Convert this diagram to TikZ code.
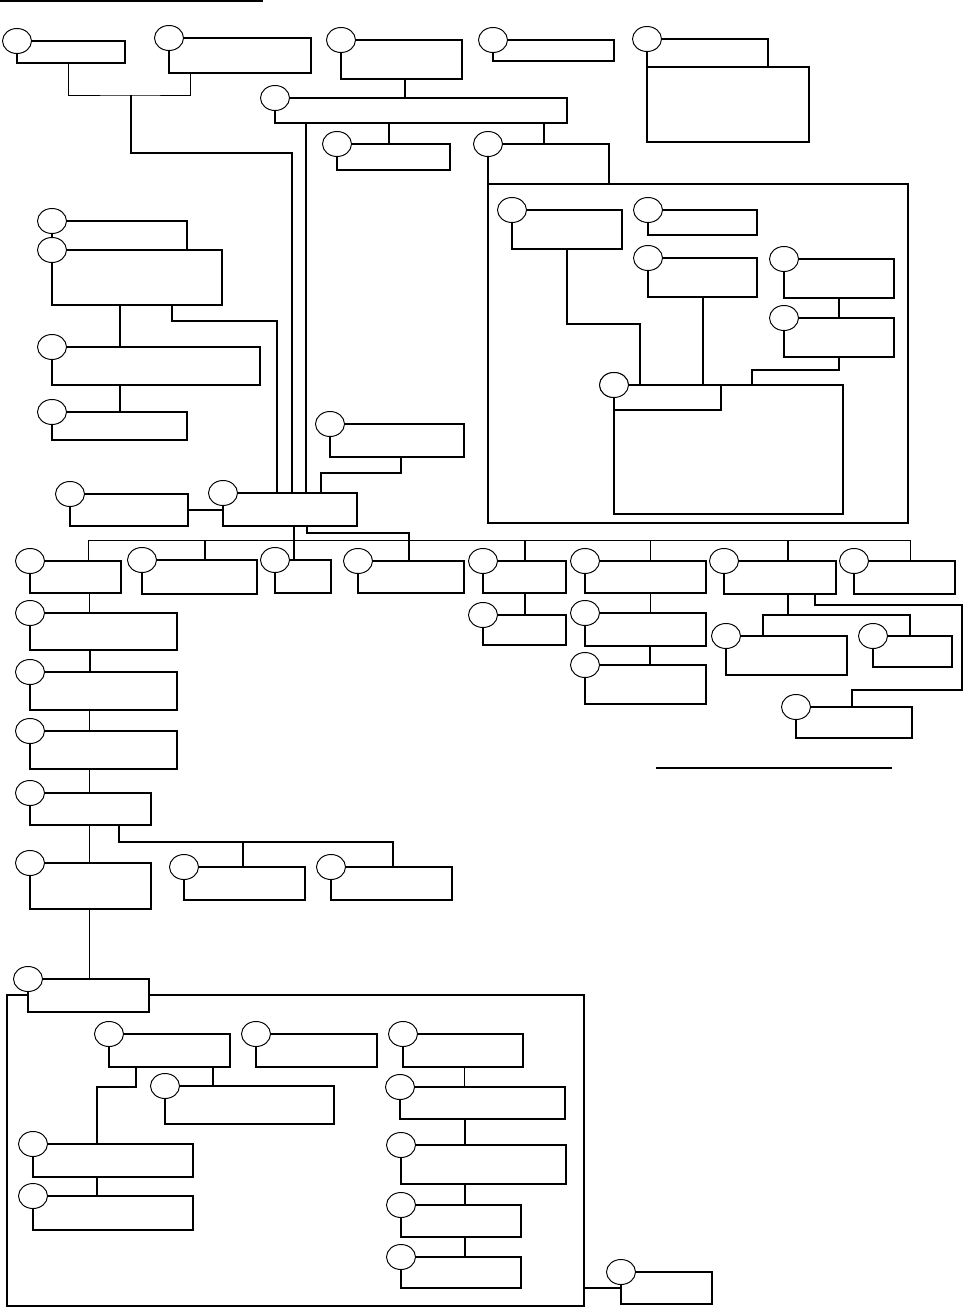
\documentclass[tikz,border=0pt]{standalone}
\usetikzlibrary{shapes.geometric}
\newcommand{\boxunit}[5]{\node[box, minimum width=#4*0.02cm, minimum height=#5*0.02cm] (#1) at (#2,#3) {};
  \node[oval] (#1o) at (#1.north west) {};}
\newcommand{\plainbox}[5]{\node[box, minimum width=#4*0.02cm, minimum height=#5*0.02cm] (#1) at (#2,#3) {};}

\begin{document}
\begin{tikzpicture}[x=0.02cm,y=-0.02cm]
\tikzstyle{box}=[draw, rectangle, fill=white, anchor=north west, inner sep=0pt, outer sep=0pt, line width=0.68pt]
\tikzstyle{frame}=[draw, rectangle, anchor=north west, inner sep=0pt, outer sep=0pt, line width=0.8pt]
\tikzstyle{oval}=[draw, ellipse, fill=white, minimum width=0.58cm, minimum height=0.5cm, inner sep=0pt, line width=0.55pt]
\tikzstyle{link}=[line width=0.62pt]
\tikzstyle{thinlink}=[line width=0.4pt]
\useasboundingbox (0,0) rectangle (964,1307);

\draw[line width=1.1pt] (0,1) -- (263,1);
\draw[line width=1.1pt] (656,768) -- (892,768);

\node[frame, minimum width=420*0.02cm, minimum height=339*0.02cm] (grpR) at (488,184) {};
\node[frame, minimum width=577*0.02cm, minimum height=311*0.02cm] (grpB) at (7,995) {};

\boxunit{A1}{17}{41}{108}{22}
\boxunit{A2}{169}{38}{142}{35}
\boxunit{A3}{341}{40}{121}{39}
\boxunit{B}{275}{98}{292}{25}
\boxunit{C}{337}{144}{113}{26}
\boxunit{D}{488}{144}{121}{40}
\boxunit{E1}{493}{40}{121}{21}
\plainbox{E2body}{647}{67}{162}{75}
\boxunit{E2}{647}{39}{121}{28}

\boxunit{F1}{512}{210}{110}{39}
\boxunit{F2}{648}{210}{109}{25}
\boxunit{F3}{648}{258}{109}{39}
\boxunit{F4}{784}{259}{110}{39}
\boxunit{F5}{784}{318}{110}{39}
\boxunit{H}{614}{385}{229}{129}
\plainbox{Hhead}{614}{385}{107}{25}
\node[oval] at (H.north west) {};

\boxunit{G1}{52}{221}{135}{29}
\boxunit{G2}{52}{250}{170}{55}
\boxunit{G3}{52}{347}{208}{38}
\boxunit{G4}{52}{412}{135}{28}
\boxunit{J}{330}{424}{134}{33}
\boxunit{K}{70}{494}{118}{32}
\boxunit{Hub}{223}{493}{134}{33}

\boxunit{R1}{30}{561}{91}{32}
\boxunit{R2}{142}{560}{115}{34}
\boxunit{R3}{275}{560}{56}{33}
\boxunit{R4}{358}{561}{106}{32}
\boxunit{R5}{483}{561}{83}{32}
\boxunit{R5b}{483}{615}{83}{30}
\boxunit{R6}{585}{561}{121}{32}
\boxunit{R6b}{585}{613}{121}{33}
\boxunit{R6c}{585}{665}{121}{39}
\boxunit{R7}{724}{561}{112}{33}
\boxunit{R7a}{726}{636}{121}{39}
\boxunit{R7b}{873}{636}{79}{31}
\boxunit{R7c}{796}{707}{116}{31}
\boxunit{R8}{854}{561}{101}{33}

\boxunit{L1}{30}{613}{147}{37}
\boxunit{L2}{30}{672}{147}{38}
\boxunit{L3}{30}{731}{147}{38}
\boxunit{L4}{30}{793}{121}{32}
\boxunit{L5}{30}{863}{121}{46}
\boxunit{M1}{184}{867}{121}{33}
\boxunit{M2}{331}{867}{121}{33}

\boxunit{N}{28}{979}{121}{33}
\boxunit{P1}{109}{1034}{121}{33}
\boxunit{P2}{256}{1034}{121}{33}
\boxunit{P3}{403}{1034}{120}{33}
\boxunit{P1a}{165}{1086}{169}{38}
\boxunit{Q1}{33}{1144}{160}{33}
\boxunit{Q2}{33}{1196}{160}{34}
\boxunit{P3a}{400}{1087}{165}{32}
\boxunit{P3b}{401}{1145}{165}{39}
\boxunit{P3c}{401}{1205}{120}{32}
\boxunit{P3d}{401}{1257}{120}{31}
\boxunit{Z}{621}{1272}{91}{32}

\coordinate (j1) at (131,95);
\coordinate (j2) at (292,153);
\coordinate (j3) at (277,321);
\coordinate (j4) at (321,473);
\coordinate (j5) at (640,324);
\coordinate (j6) at (752,370);
\coordinate (j7) at (788,615);
\coordinate (j8) at (393,842);
\coordinate (j9) at (97,1087);
\coordinate (hubR) at (409,533);
\coordinate (busL) at (88,540);
\coordinate (busR) at (910,540);

\draw[thinlink] (A1.south -| 68,0) |- (j1) -| (A2.south -| 190,0);
\draw[link] (j1) |- (j2) -- (Hub.north -| j2);
\draw[link] (A3.south -| 405,0) -- (B.north -| 405,0);
\draw[link] (B.south -| 306,0) -- (Hub.north -| 306,0);
\draw[link] (B.south -| 389,0) -- (C.north -| 389,0);
\draw[link] (B.south -| 544,0) -- (D.north -| 544,0);

\draw[link] (G2.south -| 120,0) -- (G3.north -| 120,0);
\draw[link] (G3.south -| 120,0) -- (G4.north -| 120,0);
\draw[link] (G2.south -| 172,0) |- (j3) -- (Hub.north -| j3);
\draw[link] (J.south -| 401,0) |- (j4) -- (Hub.north -| j4);
\draw[link] (K.east) -- (K.east -| Hub.west);

\draw[link] (F1.south -| 567,0) |- (j5) -- (H.north -| j5);
\draw[link] (F3.south -| 703,0) -- (H.north -| 703,0);
\draw[link] (F4.south -| 839,0) -- (F5.north -| 839,0);
\draw[link] (F5.south -| 839,0) |- (j6) -- (H.north -| j6);

\draw[link] (Hub.south -| 294,0) -- (R3.north -| 294,0);
\draw[link] (Hub.south -| 307,0) |- (hubR) -- (R4.north -| hubR);
\draw[thinlink] (R1.north -| busL) -- (busL) -- (busR) -- (R8.north -| busR);
\foreach \n/\x in {R2/205,R5/525,R7/788}
  \draw[link] (\n.north -| \x,0) -- (busL -| \x,0);
\draw[thinlink] (R6.north -| 650,0) -- (busL -| 650,0);
\draw[link] (R5.south -| 525,0) -- (R5b.north -| 525,0);
\draw[thinlink] (R6.south -| 650,0) -- (R6b.north -| 650,0);
\draw[link] (R6b.south -| 650,0) -- (R6c.north -| 650,0);
\draw[link] (R7.south -| j7) -- (j7);
\draw[link] (R7a.north -| 763,0) |- (j7) -| (R7b.north -| 910,0);
\draw[link] (R7.south -| 815,0) |- (962,605) |- (852,690) -- (R7c.north -| 852,0);

\draw[thinlink] (R1.south -| 89,0) -- (L1.north -| 89,0);
\draw[link] (L1.south -| 90,0) -- (L2.north -| 90,0);
\foreach \a/\b in {L2/L3,L3/L4,L4/L5,L5/N}
  \draw[thinlink] (\a.south -| 89,0) -- (\b.north -| 89,0);
\draw[link] (L4.south -| 119,0) |- (j8) -- (M2.north -| j8);
\draw[link] (M1.north -| 243,0) -- (j8 -| 243,0);

\draw[link] (P1.south -| 213,0) -- (P1a.north -| 213,0);
\draw[link] (P1.south -| 136,0) |- (j9) -- (Q1.north -| j9);
\draw[link] (Q1.south -| 97,0) -- (Q2.north -| 97,0);
\draw[thinlink] (P3.south -| 464,0) -- (P3a.north -| 464,0);
\foreach \a/\b in {P3a/P3b,P3b/P3c,P3c/P3d}
  \draw[link] (\a.south -| 465,0) -- (\b.north -| 465,0);
\draw[link] (grpB.east |- Z.west) -- (Z.west);
\end{tikzpicture}
\end{document}
